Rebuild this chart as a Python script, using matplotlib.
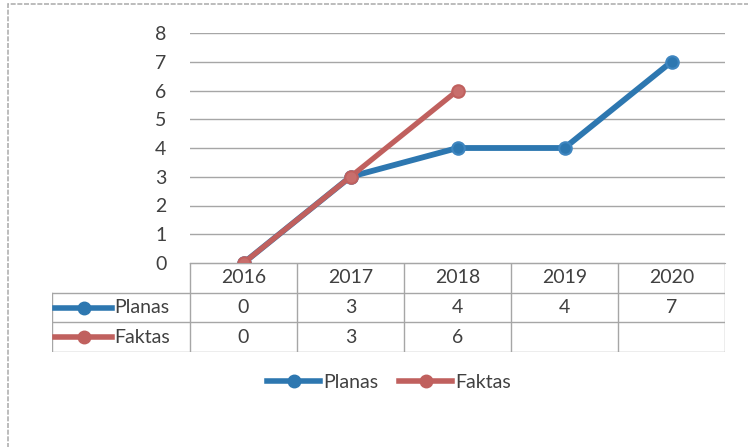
import matplotlib.pyplot as plt
from matplotlib.lines import Line2D
from matplotlib.patches import Rectangle
import numpy as np

years = ['2016', '2017', '2018', '2019', '2020']
planas = [0, 3, 4, 4, 7]
faktas = [0, 3, 6, None, None]
series_names = ['Planas', 'Faktas']
yticks = [0, 1, 2, 3, 4, 5, 6, 7, 8]

blue = '#2d77b0'
red = '#c0605e'
grid_c = '#a6a6a6'
text_c = '#404040'
fs = 14

plt.rcParams['font.family'] = ['Lato', 'DejaVu Sans']

W, H = 748, 447
fig = plt.figure(figsize=(W / 100, H / 100), dpi=100)

def px_axes(x0, y0, x1, y1):
    # pixel box (top-left origin) -> figure axes
    return fig.add_axes([x0 / W, 1 - y1 / H, (x1 - x0) / W, (y1 - y0) / H])

# main plot
ax = px_axes(190, 33, 725, 263)
x = np.arange(len(years))
f_vals = np.array([np.nan if v is None else v for v in faktas], dtype=float)

ax.plot(x, planas, color=blue, lw=4.2, marker='o', ms=9,
        mfc=blue, mec='#3f86c0', mew=1.5, zorder=3)
ax.plot(x, f_vals, color=red, lw=3.8, marker='o', ms=9,
        mfc='#c86e6c', mec=red, mew=1.5, zorder=4)

ax.set_xlim(-0.5, len(years) - 0.5)
ax.set_ylim(0, 8)
ax.set_yticks(yticks)
ax.set_xticks([])
ax.yaxis.grid(True, color=grid_c, lw=1)
ax.set_axisbelow(True)
for s in ['top', 'right', 'left']:
    ax.spines[s].set_visible(False)
ax.spines['bottom'].set_color(grid_c)
ax.tick_params(axis='y', length=0, pad=17, labelsize=fs, labelcolor=text_c)
ax.patch.set_alpha(0)

# data table below the plot
left_extra = (190 - 52) / 107.0
tab = px_axes(52, 263, 725, 352)
tab.set_xlim(-0.5 - left_extra, len(years) - 0.5)
tab.set_ylim(3, 0)
tab.axis('off')

xl = -0.5 - left_extra
xr = len(years) - 0.5
tab.plot([-0.5, xr], [0, 0], color=grid_c, lw=1)
for r in [1, 2, 3]:
    tab.plot([xl, xr], [r, r], color=grid_c, lw=1)
tab.plot([xl, xl], [1, 3], color=grid_c, lw=1)
for c in np.arange(len(years) + 1) - 0.5:
    tab.plot([c, c], [0, 3], color=grid_c, lw=1)

for i, yr in enumerate(years):
    tab.text(i, 0.5, yr, ha='center', va='center', fontsize=fs, color=text_c)
for r, (vals, col) in enumerate([(planas, blue), (faktas, red)], start=1):
    for i, v in enumerate(vals):
        if v is not None:
            tab.text(i, r + 0.5, str(v), ha='center', va='center',
                     fontsize=fs, color=text_c)
    kx = [xl + 0.03, xl + 0.56]
    tab.plot(kx, [r + 0.5, r + 0.5], color=col, lw=4, clip_on=False)
    tab.plot([np.mean(kx)], [r + 0.5], marker='o', ms=9, color=col,
             mec=col, clip_on=False)
    tab.text(xl + 0.58, r + 0.5, series_names[r - 1], ha='left', va='center',
             fontsize=fs, color=text_c)

# legend at bottom
handles = [Line2D([], [], color=blue, lw=4, marker='o', ms=9),
           Line2D([], [], color=red, lw=4, marker='o', ms=9)]
fig.legend(handles, series_names, loc='center', bbox_to_anchor=(389 / W, 1 - 382 / H),
           ncol=2, frameon=False, fontsize=fs, handlelength=2.7,
           handletextpad=0.15, columnspacing=1.1, labelcolor=text_c)

# scanned chart frame
fig.patches.append(Rectangle((8 / W, -0.05), 1.1, 1 - 4 / H + 0.05,
                             transform=fig.transFigure, fill=False,
                             ec='#b0b0b0', lw=1.2, ls=(0, (3, 1))))

fig.savefig('out.png', dpi=100)
